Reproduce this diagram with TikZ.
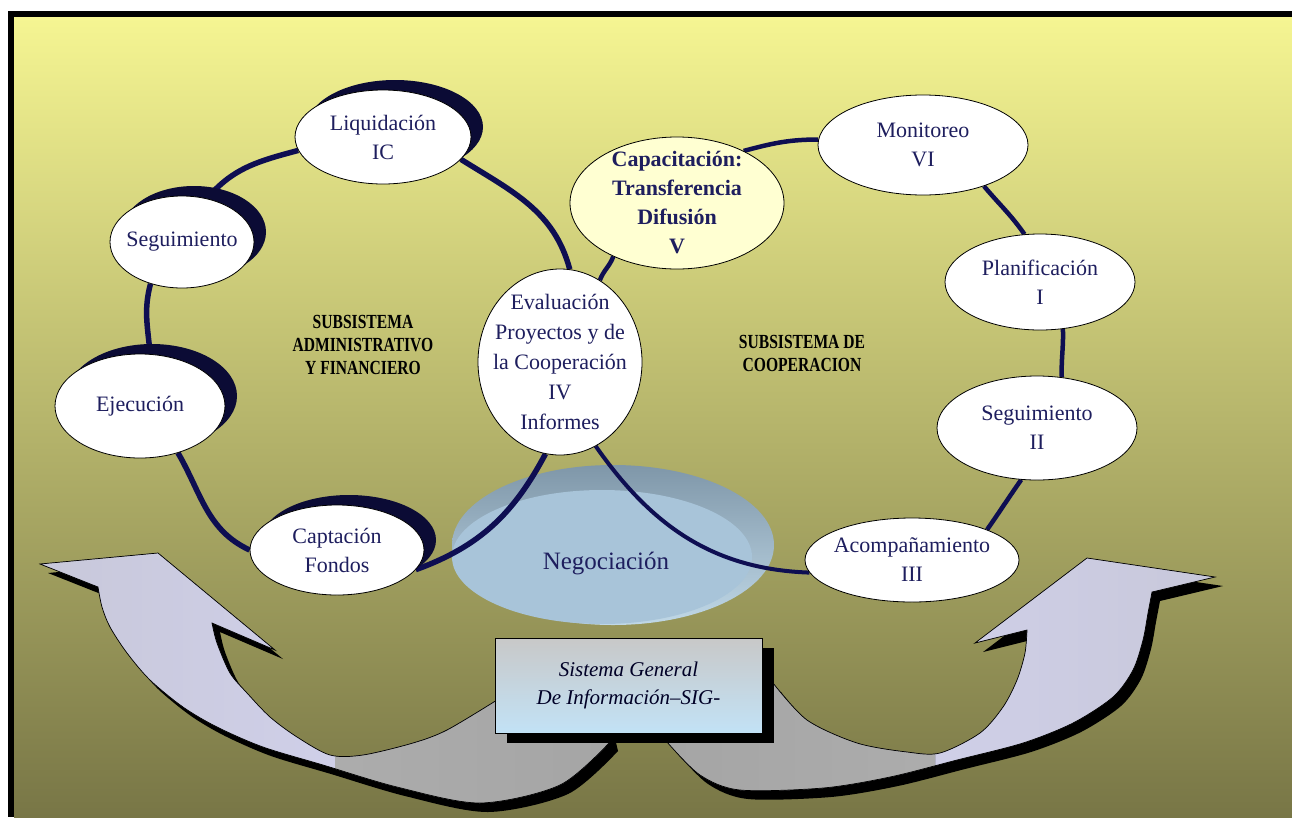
\documentclass[tikz,border=0pt]{standalone}
\usepackage{fontspec}
\setmainfont{Liberation Serif}
\newfontfamily\lblfont[FakeStretch=0.78]{Liberation Serif}
\usetikzlibrary{shapes.geometric,shadows}
\pgfdeclarelayer{bg}
\pgfdeclarelayer{links}
\pgfsetlayers{bg,links,main}
\definecolor{bgtop}{HTML}{F5F592}
\definecolor{bgbot}{HTML}{787646}
\definecolor{ringcol}{HTML}{0E0E52}
\definecolor{shadowcol}{HTML}{0B0B35}
\definecolor{txtcol}{HTML}{1E1E5E}
\definecolor{capfill}{HTML}{FFFFD2}
\definecolor{negtop}{HTML}{7F97A9}
\definecolor{negbot}{HTML}{C0D8E7}
\definecolor{negface}{HTML}{A8C4D9}
\definecolor{arrlav}{HTML}{D6D6F6}
\definecolor{arrhead}{HTML}{C8C8DA}
\definecolor{arrgrey}{HTML}{A5A5A5}
\definecolor{arrgrey2}{HTML}{B4B4B4}
\definecolor{boxtop}{HTML}{C8C8C8}
\definecolor{boxbot}{HTML}{C2E2F6}
\def\leftarrowpath{(40,-564) -- (158,-553) -- (275,-650) -- (212,-623)
  -- plot[smooth] coordinates {(212,-623) (217,-643) (230,-673) (247,-693) (270,-717) (297,-737) (330,-755) (363,-755) (413,-743) (447,-730) (497,-700)}
  -- (600,-700) -- (610,-742)
  -- plot[smooth] coordinates {(610,-742) (560,-785) (480,-803) (397,-787) (323,-765) (263,-747) (217,-727) (183,-707) (150,-680) (127,-653) (110,-627) (102,-607) (98,-587)}
  -- cycle}
\def\rightarrowpath{(1215,-577) -- (1152,-592)
  -- plot[smooth] coordinates {(1152,-592) (1148,-613) (1143,-640) (1133,-670) (1113,-697) (1073,-723) (1023,-743) (957,-760) (890,-777) (823,-788) (740,-790) (700,-775) (667,-742)}
  -- (667,-700) -- (773,-683)
  -- plot[smooth] coordinates {(773,-683) (807,-720) (857,-743) (907,-752) (940,-753) (980,-733) (1003,-707) (1017,-680) (1025,-653) (1027,-630)}
  -- (975,-643) -- (1087,-558) -- cycle}
\begin{document}
\begin{tikzpicture}[x=1pt,y=1pt,
  bubble/.style={ellipse, draw=black, line width=0.8pt, fill=white, inner sep=0pt},
  txt/.style={align=center, text=txtcol, font=\fontsize{22}{29}\selectfont, inner sep=0pt},
  btxt/.style={align=center, text=txtcol, font=\fontsize{22}{29}\selectfont\bfseries, inner sep=0pt},
  shad/.style={general shadow={fill=shadowcol, shadow xshift=12pt, shadow yshift=10pt}},
  ringL/.style={draw=ringcol, line width=5.5pt},
  ringR/.style={draw=ringcol, line width=4.5pt},
  lbl/.style={font=\lblfont\fontsize{20}{23}\selectfont\bfseries, align=center, text=black, inner sep=0pt},
  bigarrow/.style={draw=black, line width=0.7pt},
]
\useasboundingbox (0,0) rectangle (1292,-817);
\begin{pgfonlayer}{bg}
\fill[white] (0,0) rectangle (1292,-817);
\fill[black] (8,-11) rectangle (1292,-817);
\fill[top color=bgtop, bottom color=bgbot] (14,-17) rectangle (1292,-817);
% big curved arrows
\fill[black, shift={(8,-9)}] \leftarrowpath;
\fill[black, shift={(8,-9)}] \rightarrowpath;
\fill[left color=arrhead, right color=arrlav] \leftarrowpath;
\begin{scope}
\clip (335,-600) rectangle (640,-817);
\fill[left color=arrgrey2, right color=arrgrey] \leftarrowpath;
\end{scope}
\draw[bigarrow] \leftarrowpath;
\fill[left color=arrlav, right color=arrhead] \rightarrowpath;
\begin{scope}
\clip (640,-600) rectangle (935,-817);
\fill[left color=arrgrey, right color=arrgrey2] \rightarrowpath;
\end{scope}
\draw[bigarrow] \rightarrowpath;
% negotiation disc
\node[ellipse, minimum width=322pt, minimum height=160pt, inner sep=0pt,
  top color=negtop, bottom color=negbot] (neg) at (613,-545) {};
\fill[negface] (602,-557) ellipse [x radius=150, y radius=67];
\node[txt, font=\fontsize{25}{30}\selectfont] (negtxt) at (606,-563) {Negociación};
\end{pgfonlayer}

% left ring nodes
\node[bubble, shad, minimum width=176pt, minimum height=94pt,
  label={[txt]center:{Liquidación\\IC}}] (liq) at (383,-137) {};
\node[bubble, shad, minimum width=144pt, minimum height=92pt,
  label={[txt]center:{Seguimiento}}] (seg1) at (182,-242) {};
\node[bubble, shad, minimum width=170pt, minimum height=104pt,
  label={[txt]center:{Ejecución}}] (eje) at (140,-406) {};
\node[bubble, shad, minimum width=174pt, minimum height=90pt,
  label={[txt]center:{Captación\\Fondos}}] (cap) at (337,-550) {};
\node[bubble, minimum width=164pt, minimum height=186pt,
  label={[txt, font=\fontsize{22}{30}\selectfont]center:{Evaluación\\Proyectos y de\\la Cooperación\\IV\\Informes}}] (eva) at (560,-362) {};
% right ring nodes
\node[bubble, fill=capfill, minimum width=214pt, minimum height=132pt,
  label={[btxt]center:{Capacitación:\\Transferencia\\Difusión\\V}}] (capa) at (677,-203) {};
\node[bubble, minimum width=210pt, minimum height=100pt,
  label={[txt]center:{Monitoreo\\VI}}] (mon) at (923,-145) {};
\node[bubble, minimum width=190pt, minimum height=96pt,
  label={[txt]center:{Planificación\\I}}] (pla) at (1040,-282) {};
\node[bubble, minimum width=200pt, minimum height=104pt,
  label={[txt]center:{Seguimiento\\II}}] (seg2) at (1037,-428) {};
\node[bubble, minimum width=214pt, minimum height=84pt,
  label={[txt]center:{Acompañamiento\\III}}] (aco) at (912,-560) {};

% subsystem labels
\node[lbl] (subadm) at (363,-345) {SUBSISTEMA\\ADMINISTRATIVO\\Y FINANCIERO};
\node[lbl] (subcoop) at (802,-353) {SUBSISTEMA DE\\COOPERACION};

% SIG box
\node[rectangle, draw=black, line width=0.8pt, top color=boxtop, bottom color=boxbot,
  minimum width=267pt, minimum height=95pt, inner sep=0pt,
  general shadow={fill=black, shadow xshift=12pt, shadow yshift=-10pt},
  align=center, font=\fontsize{21}{28}\selectfont\itshape, text=black!85!blue]
  (sig) at (628.5,-685.5) {Sistema General\\De Información–SIG-};

% connectors
\begin{pgfonlayer}{links}
\draw[ringL] (liq.189) to[out=195,in=50] (seg1.60);
\draw[ringL] (seg1.233) to[out=255,in=95] (eje.79);
\draw[ringL] (eje.309) to[out=300,in=155] (cap.180);
\draw[ringL] (cap.346) to[out=20,in=242] (eva.261);
\draw[ringL] (liq.344) to[out=328,in=105] (eva.84);
\draw[ringR] (capa.38) to[out=15,in=180] (mon.177);
\draw[ringR] (mon.326) to[out=-50,in=125] (pla.108);
\draw[ringR] (pla.296) to[out=-88,in=92] (seg2.64);
\draw[ringR] (seg2.253) to[out=235,in=55] (aco.22);
\draw[ringR] (capa.220) to[out=250,in=70] (eva.64);
\draw[ringcol, line width=4pt] (eva.293) to[out=-55,in=178] (aco.187);
\end{pgfonlayer}
\end{tikzpicture}
\end{document}
